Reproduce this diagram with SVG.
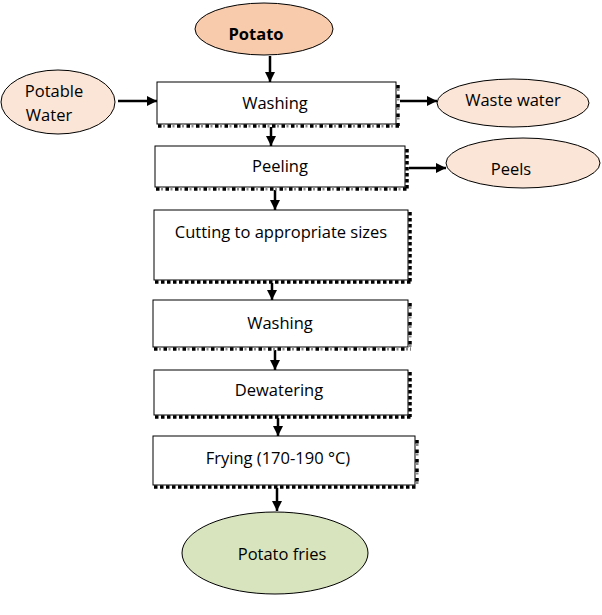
<svg xmlns="http://www.w3.org/2000/svg" width="602" height="615" viewBox="0 0 602 615">
<style>
.box{fill:#fff;stroke:#000;stroke-width:1}
.ell{stroke:#000;stroke-width:1}
.peach{fill:#FBE5D6}
.potato{fill:#F8CBAD}
.green{fill:#D7E4BD}
.t{font-family:"Open Sans","Liberation Sans",sans-serif;font-size:16.5px;fill:#000;text-anchor:middle;dominant-baseline:central}
.dense{stroke:#000;stroke-width:3.5;stroke-dasharray:3.5 2.5;fill:none}
.sparse{stroke:#000;stroke-width:3.5;stroke-dasharray:3.5 6;fill:none}
.xs{stroke:#888;stroke-width:3;stroke-dasharray:2 7.5;fill:none}
.conn{stroke:#000;stroke-width:2.5;fill:none}
</style>
<defs>
<marker id="ah" viewBox="0 0 10 10" refX="10" refY="5" markerWidth="4.2" markerHeight="4.2" orient="auto" markerUnits="strokeWidth">
<path d="M0,0 L10,5 L0,10 z" fill="#000"/>
</marker>
</defs>

<g id="connectors">
<line class="conn" x1="270" y1="56" x2="270" y2="82" marker-end="url(#ah)"/>
<line class="conn" x1="118" y1="101" x2="157" y2="101" marker-end="url(#ah)"/>
<line class="conn" x1="400" y1="101" x2="437" y2="101" marker-end="url(#ah)"/>
<line class="conn" x1="271" y1="127" x2="271" y2="146" marker-end="url(#ah)"/>
<line class="conn" x1="409" y1="168" x2="446" y2="168" marker-end="url(#ah)"/>
<line class="conn" x1="275" y1="190" x2="275" y2="210" marker-end="url(#ah)"/>
<line class="conn" x1="272" y1="283" x2="272" y2="300" marker-end="url(#ah)"/>
<line class="conn" x1="275" y1="350" x2="275" y2="370" marker-end="url(#ah)"/>
<line class="conn" x1="278" y1="418" x2="278" y2="436" marker-end="url(#ah)"/>
<line class="conn" x1="277" y1="488" x2="277" y2="511" marker-end="url(#ah)"/>
</g>

<g id="potato">
<ellipse class="ell potato" cx="264" cy="29" rx="69" ry="26"/>
<text class="t" x="256" y="33" font-weight="bold">Potato</text>
</g>

<g id="potable-water">
<ellipse class="ell peach" cx="58" cy="102" rx="57" ry="32"/>
<text class="t" x="54" y="90">Potable</text>
<text class="t" x="49" y="114">Water</text>
</g>

<g id="washing1">
<rect class="box" x="157" y="82" width="239" height="42"/>
<line class="sparse" x1="158" y1="126" x2="399" y2="126"/>
<line class="xs" x1="163" y1="126" x2="399" y2="126"/>
<line class="sparse" x1="398" y1="85" x2="398" y2="126"/>
<line class="xs" x1="398" y1="89" x2="398" y2="126"/>
<text class="t" x="275" y="102">Washing</text>
</g>

<g id="waste-water">
<ellipse class="ell peach" cx="513" cy="103" rx="76" ry="24"/>
<text class="t" x="513" y="99">Waste water</text>
</g>

<g id="peeling">
<rect class="box" x="155" y="146" width="250" height="41"/>
<line class="sparse" x1="156" y1="189" x2="408" y2="189"/>
<line class="xs" x1="161" y1="189" x2="408" y2="189"/>
<line class="dense" x1="407" y1="149" x2="407" y2="190"/>
<text class="t" x="280" y="165">Peeling</text>
</g>

<g id="peels">
<ellipse class="ell peach" cx="523" cy="163" rx="77" ry="25"/>
<text class="t" x="511" y="168">Peels</text>
</g>

<g id="cutting">
<rect class="box" x="154" y="210" width="254" height="70"/>
<line class="dense" x1="155" y1="282" x2="411" y2="282"/>
<line class="dense" x1="410" y1="212" x2="410" y2="283"/>
<text class="t" x="281" y="231">Cutting to appropriate sizes</text>
</g>

<g id="washing2">
<rect class="box" x="153" y="300" width="255" height="47"/>
<line class="sparse" x1="154" y1="349" x2="411" y2="349"/>
<line class="xs" x1="159" y1="349" x2="411" y2="349"/>
<line class="sparse" x1="410" y1="303" x2="410" y2="349"/>
<line class="xs" x1="410" y1="307" x2="410" y2="349"/>
<text class="t" x="280" y="322">Washing</text>
</g>

<g id="dewatering">
<rect class="box" x="154" y="370" width="254" height="45"/>
<line class="dense" x1="155" y1="417" x2="411" y2="417"/>
<line class="dense" x1="410" y1="372" x2="410" y2="417"/>
<text class="t" x="279" y="389">Dewatering</text>
</g>

<g id="frying">
<rect class="box" x="153" y="436" width="262" height="49"/>
<line class="dense" x1="154" y1="487" x2="418" y2="487"/>
<line class="sparse" x1="417" y1="440" x2="417" y2="487"/>
<line class="xs" x1="417" y1="444" x2="417" y2="487"/>
<text class="t" x="278" y="457">Frying (170-190 °C)</text>
</g>

<g id="potato-fries">
<ellipse class="ell green" cx="275" cy="553" rx="93" ry="41"/>
<text class="t" x="282" y="553">Potato fries</text>
</g>
</svg>
